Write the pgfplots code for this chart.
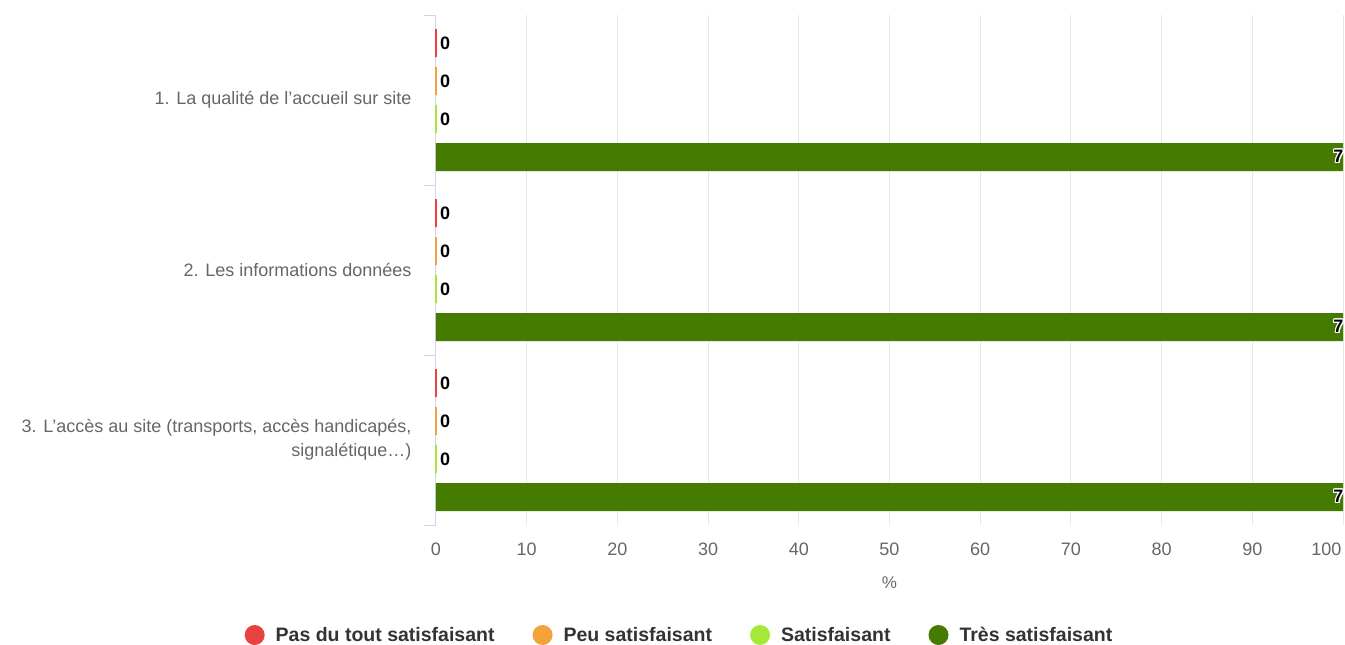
\documentclass[border=0pt]{standalone}
\usepackage{fontspec}
\setmainfont{Liberation Sans}
\usepackage{pgfplots}
\pgfplotsset{compat=1.18}
\usepackage{contour}
\contourlength{1.2pt}

\definecolor{cRed}{HTML}{E8413F}
\definecolor{cOrange}{HTML}{F4A23A}
\definecolor{cLight}{HTML}{A6E83A}
\definecolor{cDark}{HTML}{457B00}
\definecolor{axisblue}{HTML}{CCD6EB}
\definecolor{gridgrey}{HTML}{E6E6E6}
\definecolor{ticktext}{HTML}{666666}
\definecolor{legtext}{HTML}{333333}

\begin{document}
\begin{tikzpicture}
\useasboundingbox (0,0) rectangle (1345pt,-645pt);
\begin{axis}[
	at={(436pt,-525pt)}, anchor=south west,
	scale only axis, width=907pt, height=510pt,
	xmin=0, xmax=100, ymin=-0.5, ymax=2.5,
	bar width=28pt,
	/pgf/number format/assume math mode=true,
	axis y line*=left, axis x line*=bottom,
	axis line style={-},
	x axis line style={draw=none},
	y axis line style={draw=axisblue, line width=1pt},
	xtick={0,10,...,90},
	extra x ticks={100},
	extra x tick style={xticklabel style={anchor=base east, xshift=2pt}},
	xtick style={draw=none},
	xmajorgrids, grid style={gridgrey, line width=1pt},
	xticklabel style={font=\fontsize{18}{22}\selectfont, text=ticktext, anchor=base, yshift=-30.5pt},
	xlabel={\%},
	x label style={at={(axis description cs:0.5,0)}, anchor=base, yshift=-63pt, font=\fontsize{17}{20}\selectfont, text=ticktext},
	ytick={0,1,2},
	yticklabels={{3. L’accès au site (transports, accès handicapés,\\signalétique…)},{2. Les informations données},{1. La qualité de l’accueil sur site}},
	ytick style={draw=axisblue, line width=1pt},
	major tick length=0pt,
	yticklabel style={font=\fontsize{18}{24}\selectfont, text=ticktext, align=right, anchor=east, xshift=-21pt},
	extra y ticks={-0.5,0.5,1.5,2.5},
	extra y tick labels={},
	extra y tick style={major tick length=12pt, tick align=outside,
		tick style={draw=axisblue, line width=1pt}},
	legend columns=4,
	legend image code/.code={\fill[#1] (0pt,0pt) circle (10pt); \path (19pt,0pt);},
	legend style={at={(axis description cs:0.2685,-0.2157)}, anchor=center, draw=none,
		font=\bfseries\fontsize{19.5}{22}\selectfont, text=legtext,
		/tikz/every even column/.append style={column sep=36pt}},
	clip=false,
]
\addplot[xbar, forget plot, fill=cRed, draw=cRed, line width=1.5pt, bar shift=57pt,
	point meta=explicit symbolic, nodes near coords,
	every node near coord/.style={anchor=west, yshift=57pt, text=black, font=\bfseries\fontsize{18}{20}\selectfont}]
	coordinates {(0,2)[0] (0,1)[0] (0,0)[0]};
\addplot[xbar, forget plot, fill=cOrange, draw=cOrange, line width=1.5pt, bar shift=19pt,
	point meta=explicit symbolic, nodes near coords,
	every node near coord/.style={anchor=west, yshift=19pt, text=black, font=\bfseries\fontsize{18}{20}\selectfont}]
	coordinates {(0,2)[0] (0,1)[0] (0,0)[0]};
\addplot[xbar, forget plot, fill=cLight, draw=cLight, line width=1.5pt, bar shift=-19pt,
	point meta=explicit symbolic, nodes near coords,
	every node near coord/.style={anchor=west, yshift=-19pt, text=black, font=\bfseries\fontsize{18}{20}\selectfont}]
	coordinates {(0,2)[0] (0,1)[0] (0,0)[0]};
\addplot[xbar, forget plot, fill=cDark, draw=none, bar shift=-57pt,
	point meta=explicit symbolic, nodes near coords={\contour{white}{\pgfplotspointmeta}},
	every node near coord/.style={anchor=east, xshift=4pt, yshift=-57pt, text=black, font=\bfseries\fontsize{18}{20}\selectfont}]
	coordinates {(100,2)[7] (100,1)[7] (100,0)[7]};
\addlegendimage{draw=none, fill=cRed}
\addlegendimage{draw=none, fill=cOrange}
\addlegendimage{draw=none, fill=cLight}
\addlegendimage{draw=none, fill=cDark}
\legend{Pas du tout satisfaisant, Peu satisfaisant, Satisfaisant, Très satisfaisant}
\end{axis}
\end{tikzpicture}
\end{document}
